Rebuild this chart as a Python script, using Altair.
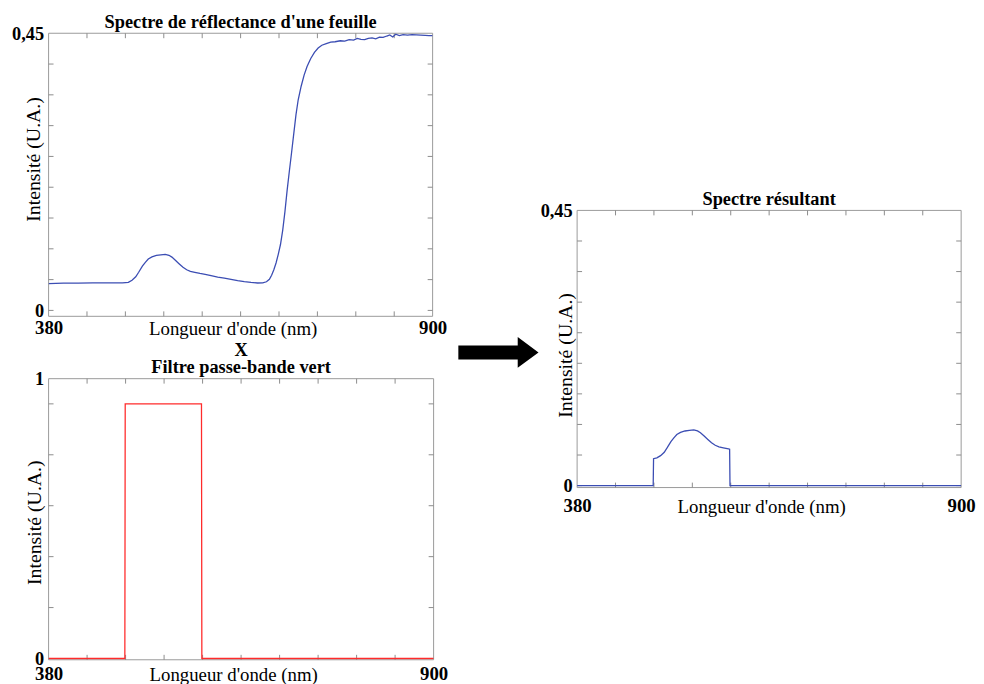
import altair as alt
import pandas as pd

# ---------------- data ----------------
REFL_WL = [380, 400, 420, 440, 460, 480, 488, 493, 498, 502, 507, 511, 515, 520, 526, 532, 538,
           543, 547, 552, 557, 562, 567, 572, 578, 585, 592, 600, 609, 618, 627, 636, 645, 654,
           663, 670, 675, 679, 682, 685, 688, 691, 694, 697, 700, 703, 706, 709, 712, 715, 718,
           722, 726, 730, 735, 740, 745, 750, 756, 762, 768, 775, 781, 787, 793, 798, 803, 808,
           813, 818, 823, 828, 833, 838, 842, 846, 850, 855, 860, 866, 872, 878, 884, 890, 895, 900]
REFL_I = [0.0435, 0.0442, 0.0444, 0.0446, 0.0446, 0.0447, 0.0455, 0.049, 0.0545, 0.062, 0.072,
          0.078, 0.0835, 0.087, 0.0893, 0.0902, 0.091, 0.0895, 0.0865, 0.081, 0.0755, 0.070,
          0.066, 0.0635, 0.0618, 0.060, 0.0585, 0.0565, 0.054, 0.0525, 0.0505, 0.0485, 0.0468,
          0.0455, 0.0445, 0.0447, 0.0465, 0.0505, 0.057, 0.066, 0.077, 0.091, 0.107, 0.130,
          0.160, 0.195, 0.226, 0.256, 0.287, 0.318, 0.342, 0.364, 0.382, 0.396, 0.409, 0.419,
          0.426, 0.4305, 0.433, 0.4355, 0.4362, 0.4378, 0.4372, 0.4395, 0.4388, 0.4415, 0.4402,
          0.4396, 0.4418, 0.4425, 0.4410, 0.4438, 0.4432, 0.4455, 0.4472, 0.4440, 0.4485,
          0.4462, 0.4478, 0.4470, 0.4476, 0.4472, 0.4469, 0.4466, 0.4463, 0.4460]

FILT_WL = [380, 483, 483.5, 586.5, 587, 900]
FILT_T = [0, 0, 0.91, 0.91, 0, 0]

RES_WL = [380, 483, 483.5, 488, 493, 498, 502, 507, 511, 515, 520, 526, 532, 538, 543, 547,
          552, 557, 562, 567, 572, 578, 585, 586.5, 587, 900]
RES_I = [0, 0, 0.044, 0.0455, 0.049, 0.0545, 0.062, 0.072, 0.078, 0.0835, 0.087, 0.0893,
         0.0902, 0.091, 0.0895, 0.0865, 0.081, 0.0755, 0.070, 0.066, 0.0635, 0.0618, 0.060,
         0.0595, 0, 0]

X_LABELS = [380, 900]
X_TICKS = [432, 484, 536, 588, 640, 692, 744, 796, 848]
Y_TICKS_SPEC = [0, 0.05, 0.10, 0.15, 0.20, 0.25, 0.30, 0.35, 0.40]
Y_LABELS_SPEC = [0, 0.45]
Y_TICKS_FILT = [0, 0.182, 0.364, 0.546, 0.728, 0.91]
Y_LABELS_FILT = [0, 1]

# ---------------- style ----------------
SERIF = "Liberation Serif"
BLUE = "#3b4db3"
RED = "#ff2b2b"
FRAME = "#9a9a9a"
TICK = "#8c8c8c"
TL = 5  # inner tick length (px)
ARROW = "M -1 -0.173 L 0.481 -0.173 L 0.481 -0.383 L 1 0 L 0.481 0.383 L 0.481 0.173 L -1 0.173 Z"

LABEL_EXPR = "replace(format(datum.value, '~g'), '.', ',')"


def panel(wl, val, color, title, y_dom, y_labels, y_ticks, W, H, xpad, ytx, yty, extra=None):
    x_enc = alt.X(
        "wl:Q",
        scale=alt.Scale(domain=[380, 900], nice=False, zero=False),
        axis=alt.Axis(values=X_LABELS, labelExpr=LABEL_EXPR, ticks=False, domain=False, grid=False,
                      labelFont=SERIF, labelFontSize=19, labelFontWeight="bold", labelColor="black",
                      labelPadding=xpad, labelFlush=False,
                      title="Longueur d'onde (nm)", titleFont=SERIF, titleFontSize=19,
                      titleFontWeight="normal", titleColor="black", titleBaseline="top",
                      titleX=W / 2 - 8, titleY=xpad + 1),
    )
    y_enc = alt.Y(
        "I:Q",
        scale=alt.Scale(domain=y_dom, nice=False, zero=False),
        axis=alt.Axis(values=y_labels, labelExpr=LABEL_EXPR, ticks=False, domain=False, grid=False,
                      labelFont=SERIF, labelFontSize=18.5, labelFontWeight="bold", labelColor="black",
                      labelPadding=5, labelFlush=False,
                      title="Intensité (U.A.)", titleFont=SERIF, titleFontSize=20,
                      titleFontWeight="normal", titleColor="black", titleAngle=270,
                      titleBaseline="bottom", titleX=ytx, titleY=yty),
    )
    one = pd.DataFrame({"z": [0]})
    frame = alt.Chart(one).mark_rect(fill="white", fillOpacity=0, stroke=FRAME, strokeWidth=1).encode(
        x=alt.value(0), x2=alt.value(W), y=alt.value(0), y2=alt.value(H))
    xt = pd.DataFrame({"wl": X_TICKS})
    yt = pd.DataFrame({"I": y_ticks})
    top = alt.Chart(xt).mark_rule(color=TICK).encode(x=x_enc, y=alt.value(0), y2=alt.value(TL))
    bot = alt.Chart(xt).mark_rule(color=TICK).encode(x=x_enc, y=alt.value(H), y2=alt.value(H - TL))
    left = alt.Chart(yt).mark_rule(color=TICK).encode(y=y_enc, x=alt.value(0), x2=alt.value(TL))
    right = alt.Chart(yt).mark_rule(color=TICK).encode(y=y_enc, x=alt.value(W), x2=alt.value(W - TL))
    df = pd.DataFrame({"wl": wl, "I": val, "k": list(range(len(wl)))})
    line = alt.Chart(df).mark_line(color=color, strokeWidth=1.3, clip=True).encode(
        x=x_enc, y=y_enc, order="k:Q")
    layers = [frame, top, bot, left, right, line]
    if extra is not None:
        layers.append(extra)
    return alt.layer(*layers).properties(
        width=W, height=H,
        title=alt.TitleParams(text=title, font=SERIF, fontSize=18.5, fontWeight="bold", color="black",
                              offset=-7, anchor="middle", lineHeight=17, frame="group"),
    )


p1 = panel(REFL_WL, REFL_I, BLUE, "Spectre de réflectance d'une feuille", [-0.0096, 0.45],
           Y_LABELS_SPEC, Y_TICKS_SPEC, 388, 286, 2, -5, 127)
p2 = panel(FILT_WL, FILT_T, RED, ["X", "Filtre passe-bande vert"], [-0.0046, 1.0],
           Y_LABELS_FILT, Y_TICKS_FILT, 389, 284, 5, -4, 145)

arrow = alt.Chart(pd.DataFrame({"z": [0]})).mark_point(
    shape=ARROW, size=6561, filled=True, color="black", opacity=1, strokeWidth=0
).encode(x=alt.value(-79.5), y=alt.value(143.5))

p3 = panel(RES_WL, RES_I, BLUE, "Spectre résultant", [-0.0032, 0.45],
           Y_LABELS_SPEC, Y_TICKS_SPEC, 388, 280, 9, -2, 146, extra=arrow)

spacer = alt.Chart(pd.DataFrame({"z": [0]})).mark_point(opacity=0).encode(
    x=alt.value(0), y=alt.value(0)).properties(width=388, height=158)

left_col = alt.vconcat(p1, p2, spacing=3)
right_col = alt.vconcat(spacer, p3, spacing=0)

chart = alt.hconcat(left_col, right_col, spacing=10).configure_view(strokeWidth=0).properties(
    padding={"left": 3, "top": 1, "right": 0, "bottom": 0})

chart.save("out.html", embed_options={"renderer": "svg", "actions": False})
